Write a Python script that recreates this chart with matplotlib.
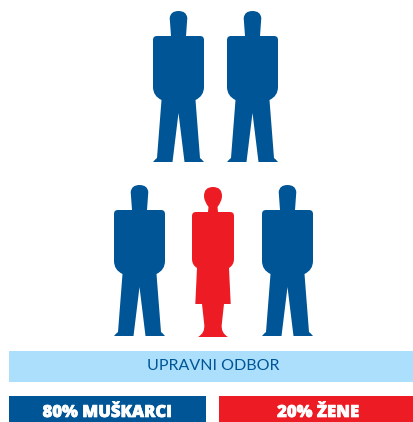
import matplotlib
matplotlib.use("Agg")
import matplotlib.pyplot as plt
import matplotlib.patheffects as pe
from matplotlib.path import Path
from matplotlib.patches import PathPatch

BLUE = "#005596"
RED = "#ed1c24"
LIGHT = "#abdffc"

# figures: x of the head centre, y of the head top
men_x = [178.5, 252.5, 139.5, 287.5]
men_y = [11, 11, 185, 185]
women_x = [213]
women_y = [187]

title_label = "UPRAVNI ODBOR"
share_labels = ["80% MUŠKARCI", "20% ŽENE"]

M, L, Q = Path.MOVETO, Path.LINETO, Path.CURVE3

# half of a silhouette, right side, from head top to the centre line at the bottom
man_side = [
    (0, 0, M),
    (8, 0, Q), (8.8, 7, Q),
    (7.5, 25, L),
    (21.5, 25, L),
    (25.5, 25, Q), (25.5, 29, Q),
    (25.5, 76, L),
    (25.5, 85, Q), (17, 89, Q),
    (21.5, 147, L),
    (23, 148, Q), (25.5, 151, Q),
    (6, 151, L), (0, 102, L),
]
woman_side = [
    (0, 0, M),
    (9, 0, Q), (9, 9, Q),
    (9, 14, Q), (4.5, 20, Q),
    (5, 25, L), (17, 25, L),
    (21, 25, Q), (21, 29, Q),
    (21, 72, L),
    (21, 78, Q), (16, 81, Q),
    (17.7, 117, L), (11, 117, L),
    (8.7, 138, L),
    (8, 146, Q), (15, 150, Q),
    (0, 150, L),
]


def mirror(side):
    # walk down the right side, then back up the left one
    verts = [(x, y) for x, y, c in side]
    codes = [c for x, y, c in side]
    back_v = [(-x, y) for x, y in verts[::-1]][1:]
    back_c = codes[::-1][:-1]
    return verts + back_v, codes + back_c


def draw_figure(ax, side, cx, top, color):
    verts, codes = mirror(side)
    verts = [(cx + x, top + y) for x, y in verts]
    ax.add_patch(PathPatch(Path(verts, codes), fc=color, ec="none"))


fig = plt.figure(figsize=(4.13, 4.22), dpi=100)
ax = fig.add_axes([0, 0, 1, 1])
ax.set_xlim(0, 413)
ax.set_ylim(422, 0)
ax.axis("off")

for x, y in zip(men_x, men_y):
    draw_figure(ax, man_side, x, y, BLUE)
for x, y in zip(women_x, women_y):
    draw_figure(ax, woman_side, x, y, RED)

ax.barh(366.5, 404, height=31, left=9, color=LIGHT)
ax.barh(409, 197, height=26, left=9, color=BLUE)
ax.barh(409, 194, height=26, left=219, color=RED)

# the source font is heavier than anything installed, so thicken it a little
heavy = [pe.withStroke(linewidth=0.5, foreground="white")]

ax.text(213.5, 366.5, title_label, ha="center", va="center", color=BLUE,
        family="Lato", fontsize=11.5)
ax.text(107, 412.5, share_labels[0], ha="center", va="center", color="white",
        family="Open Sans", weight=800, fontsize=12, path_effects=heavy)
ax.text(318, 412.5, share_labels[1], ha="center", va="center", color="white",
        family="Open Sans", weight=800, fontsize=12, path_effects=heavy)

fig.savefig("out.png", dpi=100)
